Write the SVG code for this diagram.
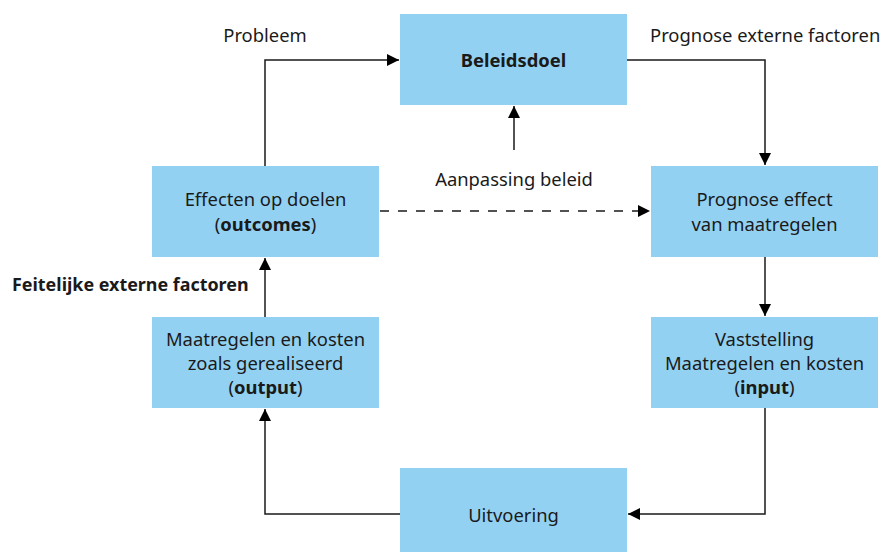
<svg xmlns="http://www.w3.org/2000/svg" width="883" height="552" viewBox="0 0 883 552">
<style>
.box{fill:#93d1f3}
text{font-family:"Noto Sans","Open Sans",sans-serif;font-size:18.4px;fill:#1a1a1a}
.c{text-anchor:middle}
.b{font-weight:bold}
.ln{fill:none;stroke:#1a1a1a;stroke-width:1.5}
</style>
<defs>
<marker id="ah" viewBox="0 0 10 10" refX="10" refY="5" markerWidth="12" markerHeight="12" markerUnits="userSpaceOnUse" orient="auto">
<path d="M0,0 L10,5 L0,10 z" fill="#000"/>
</marker>
</defs>
<rect width="883" height="552" fill="#fff"/>
<g id="connectors">
<path class="ln" d="M265,166 V60 H399" marker-end="url(#ah)"/>
<path class="ln" d="M627,60 H765 V165" marker-end="url(#ah)"/>
<path class="ln" d="M514,150 V106" marker-end="url(#ah)"/>
<path class="ln" d="M380,211 H650" stroke-dasharray="9,9" marker-end="url(#ah)"/>
<path class="ln" d="M765,257 V316" marker-end="url(#ah)"/>
<path class="ln" d="M765,408 V514 H628" marker-end="url(#ah)"/>
<path class="ln" d="M400,514 H265 V409" marker-end="url(#ah)"/>
<path class="ln" d="M265,317 V258" marker-end="url(#ah)"/>
</g>
<g id="labels">
<text class="c" x="265" y="42">Probleem</text>
<text x="650" y="42">Prognose externe factoren</text>
<text class="c" x="514" y="186">Aanpassing beleid</text>
<text class="b" x="12" y="291" style="font-size:17.9px">Feitelijke externe factoren</text>
</g>
<g id="beleidsdoel">
<rect class="box" x="400" y="14" width="227" height="91"/>
<text class="c b" x="513.5" y="67">Beleidsdoel</text>
</g>
<g id="effecten">
<rect class="box" x="152" y="166" width="227" height="91"/>
<text class="c" x="265.5" y="206">Effecten op doelen</text>
<text class="c" x="265.5" y="231">(<tspan class="b">outcomes</tspan>)</text>
</g>
<g id="output">
<rect class="box" x="152" y="317" width="227" height="91"/>
<text class="c" x="265.5" y="346">Maatregelen en kosten</text>
<text class="c" x="265.5" y="370">zoals gerealiseerd</text>
<text class="c" x="265.5" y="394">(<tspan class="b">output</tspan>)</text>
</g>
<g id="prognose">
<rect class="box" x="651" y="166" width="227" height="91"/>
<text class="c" x="764.5" y="206">Prognose effect</text>
<text class="c" x="764.5" y="231">van maatregelen</text>
</g>
<g id="vaststelling">
<rect class="box" x="651" y="317" width="227" height="91"/>
<text class="c" x="764.5" y="346">Vaststelling</text>
<text class="c" x="764.5" y="370">Maatregelen en kosten</text>
<text class="c" x="764.5" y="394">(<tspan class="b">input</tspan>)</text>
</g>
<g id="uitvoering">
<rect class="box" x="400" y="468" width="227" height="84"/>
<text class="c" x="513.5" y="522">Uitvoering</text>
</g>
</svg>
